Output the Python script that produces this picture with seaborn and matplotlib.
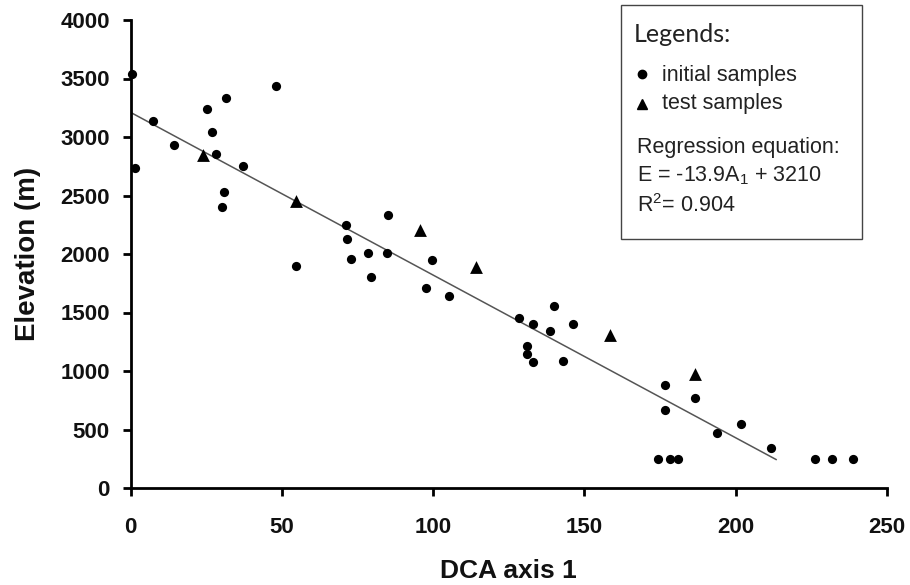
import numpy as np
import pandas as pd
import matplotlib
matplotlib.use("Agg")
import matplotlib.pyplot as plt
from matplotlib.patches import Rectangle
from matplotlib.lines import Line2D
import seaborn as sns

sns.set_theme(style="ticks")
plt.rcParams['font.family'] = ['Liberation Sans', 'DejaVu Sans']
plt.rcParams['mathtext.fontset'] = 'custom'
plt.rcParams['mathtext.rm'] = 'Liberation Sans'
plt.rcParams['mathtext.it'] = 'Liberation Sans'
plt.rcParams['text.color'] = '#111111'
plt.rcParams['axes.labelcolor'] = '#111111'
plt.rcParams['xtick.color'] = 'black'
plt.rcParams['ytick.color'] = 'black'
plt.rcParams['xtick.labelcolor'] = '#111111'
plt.rcParams['ytick.labelcolor'] = '#111111'

# Initial samples (DCA axis 1, elevation)
init_x = [0.3, 7.3, 1.4, 14.3, 25.3, 31.5, 48.0, 27.0, 28.1, 37.2, 30.8, 30.1,
          71.1, 71.6, 85.0, 72.7, 78.4, 84.6, 54.6, 79.6, 99.7, 97.7, 105.3,
          128.4, 133.0, 140.0, 146.2, 138.6, 130.9, 130.9, 133.0, 142.8,
          176.6, 176.6, 186.7, 193.9, 201.7, 211.9,
          174.4, 178.5, 181.0, 226.4, 232.0, 239.0]
init_y = [3538, 3137, 2732, 2929, 3237, 3336, 3436, 3040, 2852, 2752, 2533, 2404,
          2245, 2126, 2336, 1957, 2008, 2008, 1897, 1806, 1949, 1709, 1641,
          1456, 1404, 1556, 1404, 1345, 1214, 1145, 1074, 1088,
          878, 667, 767, 467, 550, 342,
          245, 245, 245, 245, 245, 245]

# Test samples
test_x = [23.8, 54.5, 95.8, 114.1, 158.4, 186.7]
test_y = [2846, 2453, 2205, 1886, 1308, 972]

# Regression
slope = -13.9
intercept = 3210
line_x = [0, 213.5]

x_ticks = [0, 50, 100, 150, 200, 250]
y_ticks = [0, 500, 1000, 1500, 2000, 2500, 3000, 3500, 4000]

fig = plt.figure(figsize=(9.1, 5.85), dpi=100)
ax = fig.add_axes([130.7/910, 1-488/585, (886.7-130.7)/910, (488-20)/585])

df_init = pd.DataFrame({"x": init_x, "y": init_y})
df_test = pd.DataFrame({"x": test_x, "y": test_y})
df_line = pd.DataFrame({"x": line_x, "y": [intercept + slope*v for v in line_x]})

sns.lineplot(data=df_line, x="x", y="y", ax=ax, color="#555555", linewidth=1.1, zorder=2)
sns.scatterplot(data=df_init, x="x", y="y", ax=ax, marker="o", s=44, color="black",
                edgecolor="black", linewidth=0, zorder=3, clip_on=False)
sns.scatterplot(data=df_test, x="x", y="y", ax=ax, marker="^", s=85, color="black",
                edgecolor="black", linewidth=0, zorder=3, clip_on=False)

ax.set_xlim(0, 250)
ax.set_ylim(0, 4000)
ax.set_xticks(x_ticks)
ax.set_yticks(y_ticks)
for s in ["top", "right"]:
    ax.spines[s].set_visible(False)
for s in ["left", "bottom"]:
    ax.spines[s].set_linewidth(2)
    ax.spines[s].set_color("black")
ax.tick_params(axis="both", direction="out", length=6, width=2, color="black",
               labelsize=16)
ax.tick_params(axis="x", pad=15)
ax.tick_params(axis="y", pad=9)
for lab in ax.get_xticklabels() + ax.get_yticklabels():
    lab.set_fontweight("bold")
ax.set_xlabel("DCA axis 1", fontsize=19, fontweight="bold", labelpad=15)
ax.set_ylabel("Elevation (m)", fontsize=20, fontweight="bold", labelpad=14)
ax.patch.set_alpha(0)

# Legend box (figure pixel coords converted)
def fx(px):
    return px / 910
def fy(py):
    return 1 - py / 585

fig.patches.append(Rectangle((fx(621), fy(239)), fx(862) - fx(621), fy(5) - fy(239),
                             transform=fig.transFigure, fill=False,
                             edgecolor="#444444", linewidth=1.0))
fig.text(fx(634), fy(34), "Legends:", fontsize=18, family=["Lato", "DejaVu Sans"],
         va="center", ha="left", color="#222222")
fig.lines.append(Line2D([fx(641.7)], [fy(74)], marker="o", markersize=6, color="black",
                        linestyle="none", transform=fig.transFigure))
fig.lines.append(Line2D([fx(641.7)], [fy(104)], marker="^", markersize=7.5, color="black",
                        linestyle="none", transform=fig.transFigure))
fs = 15.5
fig.text(fx(662), fy(75), "initial samples", fontsize=fs, va="center", ha="left", color="#222222")
fig.text(fx(662), fy(104), "test samples", fontsize=fs, va="center", ha="left", color="#222222")
fig.text(fx(637), fy(147), "Regression equation:", fontsize=fs, va="center", ha="left", color="#222222")
fig.text(fx(637), fy(176), "E = -13.9A$_{1}$ + 3210", fontsize=fs, va="center", ha="left", color="#222222")
fig.text(fx(637), fy(206), "R$^{2}$= 0.904", fontsize=fs, va="center", ha="left", color="#222222")

fig.savefig("out.png", dpi=100)
